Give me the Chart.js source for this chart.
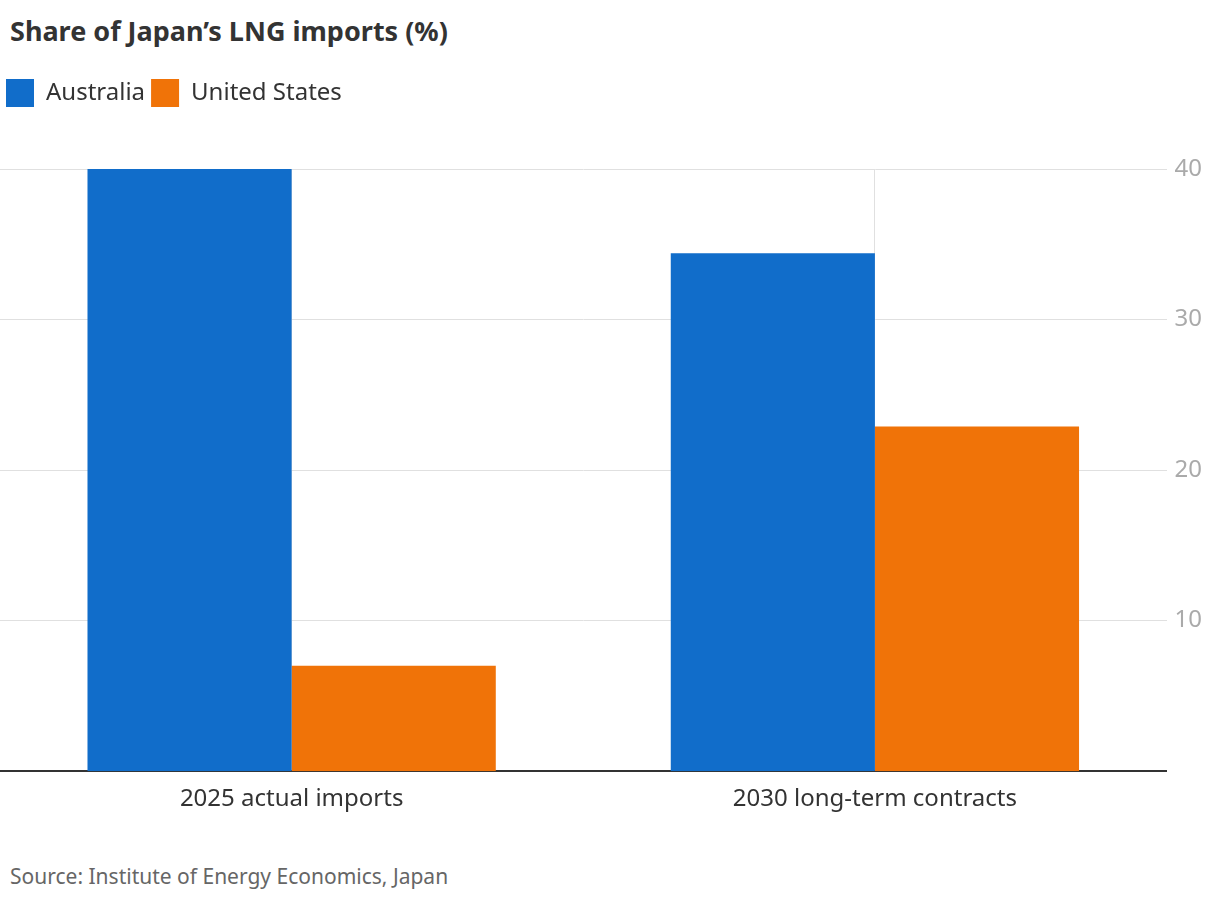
<!DOCTYPE html>
<html><head><meta charset="utf-8">
<script src="https://cdn.jsdelivr.net/npm/chart.js@4"></script>
<style>
body{margin:0;width:1220px;height:904px;background:#fff;font-family:"Noto Sans",sans-serif;position:relative;overflow:hidden}
#t{position:absolute;left:10px;top:12px;font-size:27px;font-weight:bold;color:#333}
#s{position:absolute;left:10px;top:862px;font-size:21px;color:#666}
#w{position:absolute;left:0;top:73px;width:1220px;height:755px}
</style></head><body>
<div id="t">Share of Japan’s LNG imports (%)</div>
<div id="w"><canvas id="c"></canvas></div>
<div id="s">Source: Institute of Energy Economics, Japan</div>
<script>
const categories=["2025 actual imports","2030 long-term contracts"];
const australia=[40,34.4];
const unitedStates=[7,22.9];
const yTicks=[10,20,30,40];
new Chart(document.getElementById('c'),{type:'bar',
data:{labels:categories,datasets:[
{label:'Australia',data:australia,backgroundColor:'#116dca'},
{label:'United States',data:unitedStates,backgroundColor:'#f07308'}]},
plugins:[{id:'lp',beforeInit(ch){const f=ch.legend.fit;ch.legend.fit=function(){f.call(this);this.height+=52;};}}],
options:{responsive:true,maintainAspectRatio:false,animation:false,
layout:{padding:{left:0,right:10,top:0,bottom:0}},
datasets:{bar:{categoryPercentage:0.7,barPercentage:1}},
plugins:{legend:{align:'start',labels:{boxWidth:28,boxHeight:28,padding:6,color:'#333',font:{family:'Noto Sans',size:24}}},tooltip:{enabled:false}},
scales:{
x:{grid:{offset:false,color:'#e0e0e0',drawTicks:false},border:{color:'#333',width:2},ticks:{color:'#333',padding:14,font:{family:'Noto Sans',size:24}}},
y:{position:'right',min:0,max:40,afterBuildTicks:a=>{a.ticks=yTicks.map(v=>({value:v}));},
grid:{color:'#e0e0e0',drawTicks:false},border:{display:false},
ticks:{color:'#aaa',padding:8,font:{family:'Noto Sans',size:24}}}}}});
</script></body></html>
